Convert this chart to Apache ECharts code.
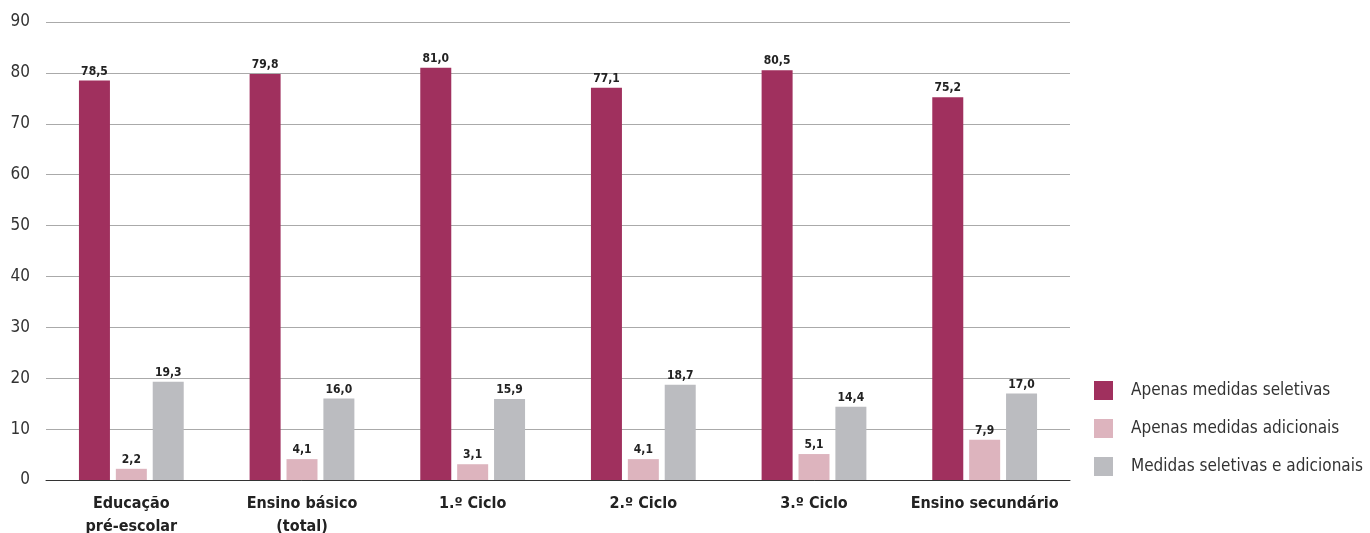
<!DOCTYPE html>
<html><head><meta charset="utf-8">
<script src="https://cdn.jsdelivr.net/npm/echarts@6/dist/echarts.min.js"></script>
<style>html,body{margin:0;padding:0;background:#fff}#c{width:1370px;height:533px}</style>
</head><body><div id="c"></div>
<script>
const categories = ['Educação\npré-escolar', 'Ensino básico\n(total)', '1.º Ciclo', '2.º Ciclo', '3.º Ciclo', 'Ensino secundário'];
const seriesNames = ['Apenas medidas seletivas', 'Apenas medidas adicionais', 'Medidas seletivas e adicionais'];
const seletivas = [78.5, 79.8, 81.0, 77.1, 80.5, 75.2];
const adicionais = [2.2, 4.1, 3.1, 4.1, 5.1, 7.9];
const ambas = [19.3, 16.0, 15.9, 18.7, 14.4, 17.0];
const colors = ['#A0305E', '#DDB4BE', '#BBBCC0'];
const FONT = '"Liberation Sans Narrow", "DejaVu Sans Condensed", "Open Sans", sans-serif';

const chart = echarts.init(document.getElementById('c'));
const mk = (name, data, color) => ({
  name, type: 'bar', data, barWidth: 31, barGap: '19%',
  itemStyle: { color },
  label: { show: true, position: 'top', distance: 3, fontFamily: FONT, fontWeight: 'bold', fontSize: 12, color: '#222',
    formatter: p => p.value.toFixed(1).replace('.', ',') }
});
chart.setOption({
  animation: false,
  textStyle: { fontFamily: FONT },
  grid: { left: 46, right: 300, top: 22, bottom: 53, containLabel: false, outerBoundsMode: 'none' },
  legend: {
    orient: 'vertical', left: 1094, top: 381, padding: 0, itemWidth: 19, itemHeight: 19, itemGap: 19,
    icon: 'rect', data: seriesNames,
    textStyle: { fontFamily: FONT, fontSize: 17, color: '#333', padding: [0, 0, 0, 13] }
  },
  xAxis: {
    type: 'category', data: categories,
    axisLine: { lineStyle: { color: '#333', width: 1 } },
    axisTick: { show: false },
    axisLabel: { fontFamily: FONT, fontWeight: 'bold', fontSize: 16, color: '#222', margin: 12, lineHeight: 23, interval: 0 }
  },
  yAxis: {
    type: 'value', min: 0, max: 90, interval: 10,
    axisLine: { show: false }, axisTick: { show: false },
    axisLabel: { fontFamily: FONT, fontSize: 17, color: '#333', margin: 16 },
    splitLine: { lineStyle: { color: '#aaa', width: 1 } }
  },
  series: [mk(seriesNames[0], seletivas, colors[0]), mk(seriesNames[1], adicionais, colors[1]), mk(seriesNames[2], ambas, colors[2])]
});
</script></body></html>
